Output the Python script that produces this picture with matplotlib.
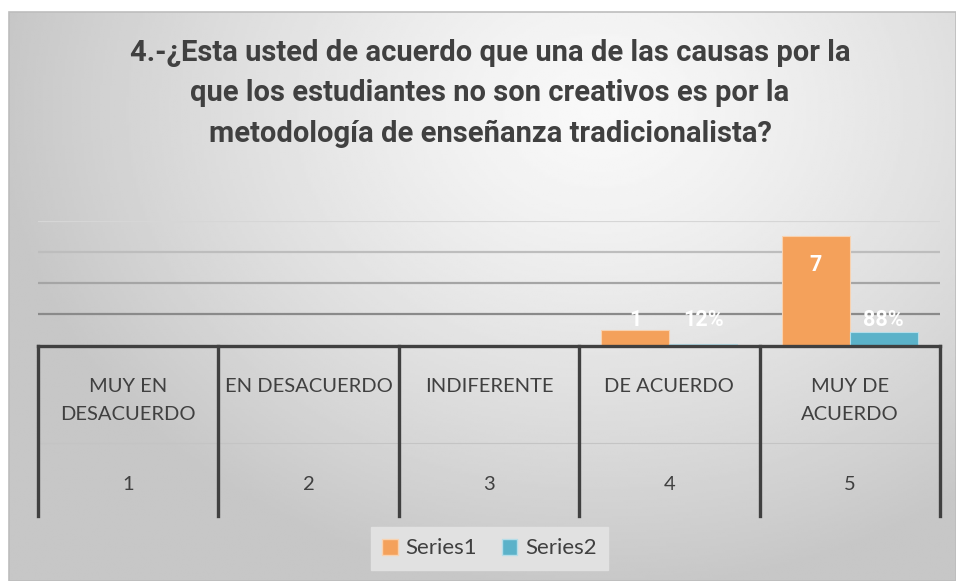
"""Bar chart: creatividad y metodologia tradicionalista (pregunta 4)."""

import matplotlib.pyplot as plt
import numpy as np
from matplotlib.patches import Patch, Rectangle

W, H = 956, 581
TITLE = ("4.-¿Esta usted de acuerdo que una de las causas por la\n"
         "que los estudiantes no son creativos es por la\n"
         "metodología de enseñanza tradicionalista?")
CATEGORIES = ["MUY EN\nDESACUERDO", "EN DESACUERDO", "INDIFERENTE",
              "DE ACUERDO", "MUY DE\nACUERDO"]
CODES = ["1", "2", "3", "4", "5"]
SERIES1 = [0, 0, 0, 1, 7]
SERIES2 = [0, 0, 0, 0.12, 0.88]
SERIES2_LABELS = ["", "", "", "12%", "88%"]
ORANGE = "#f4a15b"
TEAL = "#5bb2c9"
TEXT = "#404040"
FONT = "Lato"
BOLD_FONT = "Roboto"


def px_x(p):
    return p / W


def px_y(p):
    return 1 - p / H


fig = plt.figure(figsize=(W / 100, H / 100), dpi=100, facecolor="white")

# radial-ish gradient background of the chart area
bg = fig.add_axes([px_x(9), 0, 1 - px_x(9), 1 - 12 / H], zorder=0)
xx, yy = np.meshgrid(np.linspace(9, W, 400), np.linspace(12, H, 250))
d = np.clip(np.sqrt(((xx - 600) / 600) ** 2 + ((yy - 110) / 480) ** 2), 0, 1)
shade = 0.975 - 0.195 * d ** 1.3
bg.imshow(shade, cmap="gray", vmin=0, vmax=1, aspect="auto",
          extent=[0, 1, 0, 1], origin="upper")
bg.set_axis_off()
fig.add_artist(Rectangle((px_x(9), 0), 1 - px_x(9), 1 - 12 / H,
                         transform=fig.transFigure, fill=False,
                         edgecolor="#bdbdbd", linewidth=1.2, zorder=1))

ax = fig.add_axes([px_x(38), px_y(345.7), px_x(940 - 38), 125 / H], zorder=2)
ax.patch.set_alpha(0)
x = np.arange(1, len(CATEGORIES) + 1)
bw = 0.377
ax.bar(x - bw / 2, SERIES1, width=bw, color=ORANGE, edgecolor="#f8d2b0",
       linewidth=0.8, zorder=3)
ax.bar(x + bw / 2, SERIES2, width=bw, color=TEAL, edgecolor="#b5dde8",
       linewidth=0.8, zorder=3)
ax.set_xlim(0.5, 5.5)
ax.set_ylim(0, 8)

grid_colors = ["#8a8a8a", "#a5a5a5", "#bdbdbd", "#d6d6d6"]
for level, col in zip([2, 4, 6, 8], grid_colors):
    ax.axhline(level, color=col, linewidth=1.6, zorder=1)

for spine in ax.spines.values():
    spine.set_visible(False)
ax.set_xticks([])
ax.set_yticks([])

# data labels
label_kw = dict(textcoords="offset points", ha="center", va="center",
                color="white", fontsize=15.5, fontweight="bold",
                family=BOLD_FONT, zorder=4)
for xi, v in zip(x, SERIES1):
    if v == 0:
        continue
    if v >= 3:
        ax.annotate(str(v), (xi - bw / 2, v), xytext=(0, -21), **label_kw)
    else:
        ax.annotate(str(v), (xi - bw / 2, max(v, 1)), xytext=(0, 7.5),
                    **label_kw)
for xi, v, lab in zip(x, SERIES2, SERIES2_LABELS):
    if not lab:
        continue
    ax.annotate(lab, (xi + bw / 2, max(v, 1)), xytext=(0, 7.5), **label_kw)

# multi-level category axis
tr = ax.get_xaxis_transform()


def ay(p):
    return (345.7 - p) / 125


ax.plot([0.5, 5.5], [ay(443), ay(443)], transform=tr, color="#c4c4c4",
        linewidth=0.8, clip_on=False, zorder=2)
ax.plot([0.5, 5.5], [0, 0], transform=tr, color=TEXT, linewidth=2.4,
        clip_on=False, solid_capstyle="projecting", zorder=5)
for b in np.arange(0.5, 6.0, 1.0):
    ax.plot([b, b], [0, ay(516)], transform=tr, color=TEXT, linewidth=2.4,
            clip_on=False, zorder=5)
for xi, cat, code in zip(x, CATEGORIES, CODES):
    for i, line in enumerate(cat.split("\n")):
        ax.text(xi, ay(386 + i * 28.3), line, transform=tr, ha="center",
                va="center", fontsize=14.5, color=TEXT, family=FONT)
    ax.text(xi, ay(485), code, transform=tr, ha="center", va="center",
            fontsize=14.5, color=TEXT, family=FONT)

for i, line in enumerate(TITLE.split("\n")):
    fig.text(px_x(490), px_y(53 + i * 40.5), line, ha="center", va="center",
             fontsize=21, fontweight="bold", color=TEXT, family=BOLD_FONT)

handles = [Patch(facecolor=ORANGE, edgecolor="#f8d2b0", label="Series1"),
           Patch(facecolor=TEAL, edgecolor="#b5dde8", label="Series2")]
leg = fig.legend(handles=handles, loc="center", ncol=2,
                 bbox_to_anchor=(px_x(489.5), px_y(548.5)), frameon=True,
                 fancybox=False, framealpha=1, edgecolor="#e1e1e1",
                 facecolor="#e1e1e1", handlelength=0.7, handleheight=0.7,
                 handletextpad=0.35, columnspacing=1.1, borderpad=0.5,
                 prop={"family": FONT, "size": 16})
for t in leg.get_texts():
    t.set_color(TEXT)

fig.savefig("out.png", dpi=100, facecolor="white")
